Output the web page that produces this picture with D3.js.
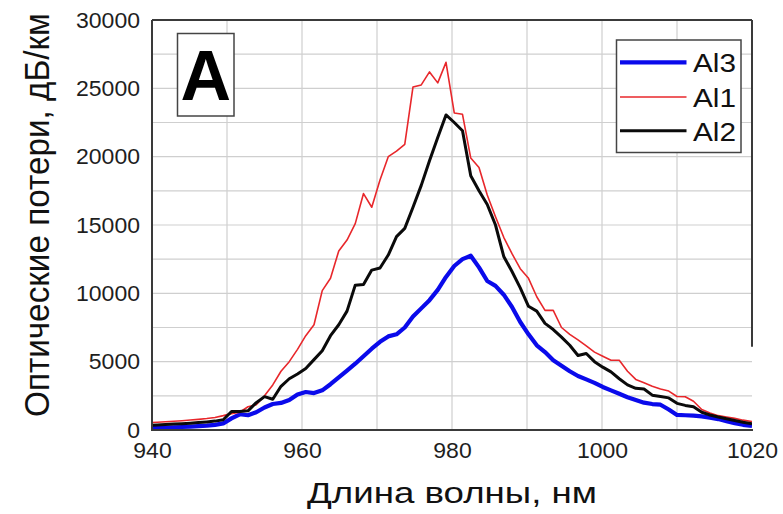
<!DOCTYPE html>
<html>
<head>
<meta charset="utf-8">
<script src="https://cdn.jsdelivr.net/npm/d3@7/dist/d3.min.js"></script>
<style>
  html, body { margin: 0; padding: 0; background: #fff; }
  svg { display: block; font-family: "Liberation Sans", Arial, sans-serif; }
</style>
</head>
<body>
<svg id="chart" width="783" height="514"></svg>
<script>
// Wavelength samples, nm
const wavelengths = [940.0, 940.7, 941.8, 942.9, 944.0, 945.1, 946.2, 947.3, 948.4, 949.5,
  950.6, 951.7, 952.8, 953.9, 955.0, 956.1, 957.2, 958.3, 959.4, 960.5,
  961.6, 962.7, 963.8, 964.9, 966.0, 967.1, 968.2, 969.3, 970.4, 971.5,
  972.6, 973.7, 974.8, 975.9, 977.0, 978.1, 979.2, 980.3, 981.4, 982.5,
  983.6, 984.7, 985.8, 986.9, 988.0, 989.1, 990.2, 991.3, 992.4, 993.5,
  994.6, 995.7, 996.8, 997.9, 999.0, 1000.1, 1001.2, 1002.3, 1003.4, 1004.5,
  1005.6, 1006.7, 1007.8, 1008.9, 1010.0, 1011.1, 1012.2, 1013.3, 1014.4, 1015.5,
  1016.6, 1017.7, 1018.8, 1020.0];

// Optical losses, dB/km
const al3 = [150, 160, 180, 200, 220, 250, 280, 320, 380, 480,
  850, 1150, 1080, 1300, 1650, 1900, 1980, 2200, 2600, 2780,
  2700, 2900, 3350, 3850, 4350, 4850, 5400, 5950, 6450, 6850,
  7000, 7500, 8300, 8900, 9500, 10250, 11200, 12000, 12500, 12750,
  11900, 10900, 10550, 9900, 9000, 7900, 7000, 6200, 5700, 5100,
  4700, 4300, 3950, 3700, 3450, 3150, 2900, 2650, 2400, 2200,
  2000, 1900, 1850, 1500, 1100, 1080, 1050, 1000, 900, 800,
  650, 500, 380, 300];

const al1 = [550, 570, 600, 640, 680, 730, 780, 840, 920, 1050,
  1200, 1300, 1700, 1850, 2500, 3300, 4300, 5000, 5900, 6900,
  7700, 10200, 11100, 13100, 13900, 15100, 17300, 16300, 18300, 20000,
  20400, 20900, 25100, 25250, 26200, 25400, 26900, 23200, 23100, 19900,
  19200, 17200, 15600, 14100, 12900, 11800, 11100, 9750, 8750, 8750,
  7500, 7000, 6600, 6150, 5700, 5400, 5100, 5100, 4300, 3700,
  3450, 3200, 3000, 2850, 2450, 2430, 2100, 1500, 1250, 1050,
  950, 850, 720, 620];

const al2 = [350, 370, 400, 430, 460, 500, 540, 590, 650, 750,
  1350, 1350, 1400, 2000, 2440, 2250, 3200, 3750, 4100, 4500,
  5150, 5800, 6900, 7700, 8700, 10600, 10650, 11700, 11850, 12800,
  14150, 14750, 16300, 17900, 19700, 21400, 23050, 22500, 21900, 18600,
  17500, 16500, 15000, 12700, 11600, 10400, 9050, 8700, 7800, 7350,
  6800, 6200, 5450, 5600, 5000, 4600, 4250, 3750, 3300, 3050,
  3000, 2550, 2450, 2350, 1950, 1800, 1700, 1300, 1100, 950,
  820, 700, 570, 450];

const xTicks = [940, 960, 980, 1000, 1020];
const yTicks = [0, 5000, 10000, 15000, 20000, 25000, 30000];
const xGrid = [950, 960, 970, 980, 990, 1000, 1010];
const yGrid = [2500, 5000, 7500, 10000, 12500, 15000, 17500, 20000, 22500, 25000, 27500];

const seriesNames = ["Al3", "Al1", "Al2"];
const seriesData = [al3, al1, al2];
const seriesColors = ["#0a0aeb", "#e8272b", "#0a0a0a"];
const seriesWidths = [4.2, 1.6, 3];

const margin = { left: 152, top: 20, right: 783 - 752, bottom: 514 - 430 };
const W = 783, H = 514;
const iw = W - margin.left - margin.right;
const ih = H - margin.top - margin.bottom;

const svg = d3.select("#chart");
const x = d3.scaleLinear().domain([940, 1020]).range([margin.left, margin.left + iw]);
const y = d3.scaleLinear().domain([0, 30000]).range([margin.top + ih, margin.top]);

svg.append("defs").append("clipPath").attr("id", "plot-clip")
  .append("rect").attr("x", margin.left).attr("y", margin.top).attr("width", iw).attr("height", ih);

// Grid
const grid = svg.append("g").attr("stroke", "#cfcfcf").attr("stroke-width", 1.2);
grid.selectAll("line.gx").data(xGrid).join("line")
  .attr("x1", d => x(d)).attr("x2", d => x(d))
  .attr("y1", margin.top).attr("y2", margin.top + ih);
grid.selectAll("line.gy").data(yGrid).join("line")
  .attr("x1", margin.left).attr("x2", margin.left + iw)
  .attr("y1", d => y(d)).attr("y2", d => y(d));

// Curves
const line = d3.line().x((d, i) => x(wavelengths[i])).y(d => y(d));
const curves = svg.append("g").attr("clip-path", "url(#plot-clip)");
seriesData.forEach((vals, k) => {
  curves.append("path").datum(vals)
    .attr("d", line)
    .attr("fill", "none")
    .attr("stroke", seriesColors[k])
    .attr("stroke-width", seriesWidths[k])
    .attr("stroke-linejoin", "round");
});

// Frame
const frame = svg.append("g").attr("stroke", "#3a3a3a").attr("fill", "none");
frame.append("line").attr("x1", margin.left).attr("x2", margin.left)
  .attr("y1", margin.top).attr("y2", margin.top + ih).attr("stroke-width", 2);
frame.append("line").attr("x1", margin.left).attr("x2", margin.left + iw)
  .attr("y1", margin.top).attr("y2", margin.top).attr("stroke-width", 2);
frame.append("line").attr("x1", margin.left - 1).attr("x2", margin.left + iw + 1)
  .attr("y1", margin.top + ih).attr("y2", margin.top + ih).attr("stroke-width", 2.2);
frame.append("line").attr("x1", margin.left + iw).attr("x2", margin.left + iw)
  .attr("y1", margin.top).attr("y2", y(6100)).attr("stroke-width", 2);

// Axes labels via d3 axes
const yAxis = svg.append("g").attr("transform", `translate(${margin.left},0)`)
  .call(d3.axisLeft(y).tickValues(yTicks).tickSize(0).tickPadding(12).tickFormat(d3.format("d")));
const xAxis = svg.append("g").attr("transform", `translate(0,${margin.top + ih})`)
  .call(d3.axisBottom(x).tickValues(xTicks).tickSize(0).tickPadding(12).tickFormat(d3.format("d")));
[yAxis, xAxis].forEach(a => {
  a.select(".domain").remove();
  a.selectAll("text").attr("font-size", 22).attr("fill", "#1e1e1e")
    .attr("font-family", "'Liberation Sans', Arial, sans-serif");
});
yAxis.selectAll("text").attr("textLength", d => String(d).length * 12.8).attr("lengthAdjust", "spacingAndGlyphs");
xAxis.selectAll("text").attr("textLength", d => String(d).length * 12.8).attr("lengthAdjust", "spacingAndGlyphs");

// Axis titles
svg.append("text")
  .attr("x", 452).attr("y", 503)
  .attr("text-anchor", "middle")
  .attr("font-size", 30).attr("fill", "#111")
  .attr("textLength", 290).attr("lengthAdjust", "spacingAndGlyphs")
  .text("Длина волны, нм");

svg.append("text")
  .attr("transform", "translate(49,215) scale(1.25,1) rotate(-90)")
  .attr("text-anchor", "middle")
  .attr("font-size", 28).attr("fill", "#111")
  .attr("textLength", 404).attr("lengthAdjust", "spacingAndGlyphs")
  .text("Оптические потери, дБ/км");

// Panel letter
svg.append("rect").attr("x", 177.5).attr("y", 33.5).attr("width", 56.5).attr("height", 82.5)
  .attr("fill", "#fff").attr("stroke", "#444").attr("stroke-width", 1.5);
svg.append("text").attr("x", 205.7).attr("y", 100)
  .attr("text-anchor", "middle").attr("font-size", 70).attr("font-weight", "bold").attr("fill", "#000")
  .text("A");

// Legend
const legend = svg.append("g");
legend.append("rect").attr("x", 616.5).attr("y", 40).attr("width", 124.5).attr("height", 112.5)
  .attr("fill", "#fff").attr("stroke", "#444").attr("stroke-width", 1.5);
const legY = [62.3, 97, 130.7];
seriesNames.forEach((name, k) => {
  legend.append("line").attr("x1", 620).attr("x2", 686.5)
    .attr("y1", legY[k]).attr("y2", legY[k])
    .attr("stroke", seriesColors[k]).attr("stroke-width", seriesWidths[k]);
  legend.append("text").attr("x", 693).attr("y", legY[k] + 9.8)
    .attr("font-size", 26).attr("fill", "#111")
    .attr("textLength", 43).attr("lengthAdjust", "spacingAndGlyphs")
    .text(name);
});
</script>
</body>
</html>
